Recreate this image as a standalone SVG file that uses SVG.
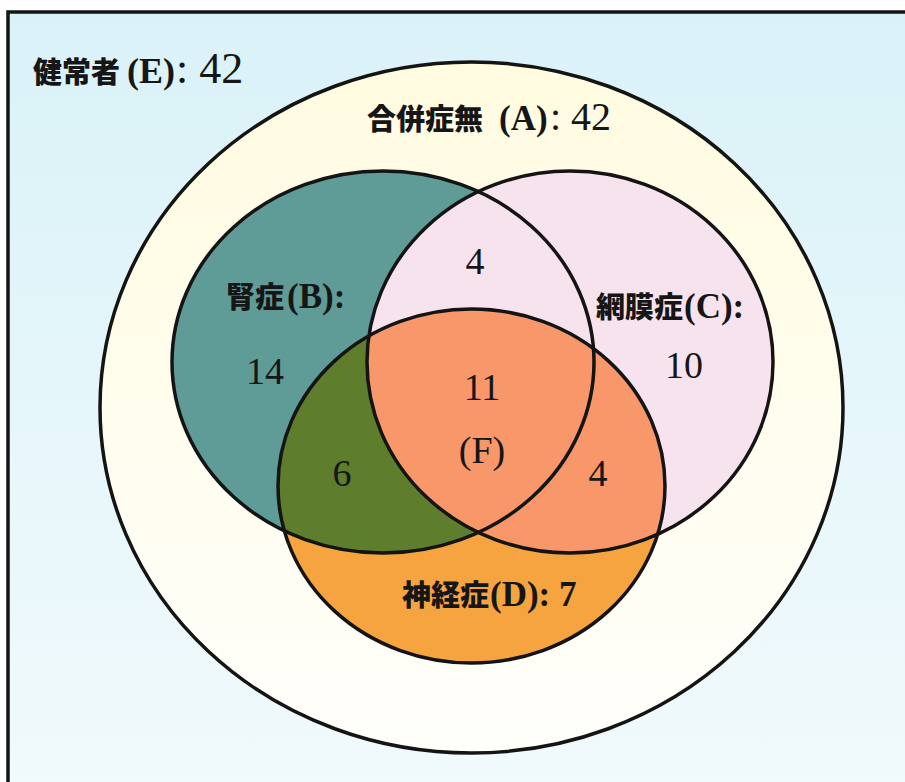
<svg xmlns="http://www.w3.org/2000/svg" width="905" height="782" viewBox="0 0 905 782">
<defs>
  <linearGradient id="bg" x1="0" y1="0" x2="0" y2="1">
    <stop offset="0" stop-color="#d9f2f8"/>
    <stop offset="1" stop-color="#f1fafc"/>
  </linearGradient>
  <linearGradient id="cream" x1="0" y1="0" x2="0" y2="1">
    <stop offset="0" stop-color="#fffbe0"/>
    <stop offset="1" stop-color="#fffffb"/>
  </linearGradient>
  <clipPath id="clipB"><ellipse cx="383" cy="362" rx="211" ry="191"/></clipPath>
  <clipPath id="clipC"><ellipse cx="570" cy="362" rx="203" ry="191"/></clipPath>
</defs>
<style>
  .ol{fill:none;stroke:#141414;stroke-width:3.5}
  .jp{font-family:"Noto Sans CJK JP","Liberation Sans",sans-serif;font-weight:900;font-size:29px;fill:#161616}
  .lb{font-family:"Liberation Serif",serif;font-weight:bold;fill:#161616}
  .rg{font-family:"Liberation Serif",serif;fill:#161616}
  .num{font-family:"Liberation Serif",serif;font-size:38px;fill:#161616;text-anchor:middle}
</style>

<g id="E">
  <rect x="0" y="0" width="905" height="782" fill="#ffffff"/>
  <rect x="8" y="12" width="897" height="770" fill="url(#bg)"/>
  <path d="M8,782 V12 H905" fill="none" stroke="#141414" stroke-width="3.5"/>
  <text y="83"><tspan class="jp" x="33">健常者</tspan><tspan class="lb" x="127" font-size="36">(E)</tspan><tspan class="rg" x="176" font-size="44">: 42</tspan></text>
</g>

<g id="A">
  <ellipse cx="471.5" cy="407.5" rx="371.5" ry="345.5" fill="url(#cream)"/>
  <ellipse class="ol" cx="471.5" cy="407.5" rx="371.5" ry="345.5" stroke-width="4"/>
  <text y="130"><tspan class="jp" x="367">合併症無</tspan><tspan class="lb" x="499" font-size="35">(A)</tspan><tspan class="rg" x="550" font-size="40">: 42</tspan></text>
</g>

<g id="B">
  <ellipse cx="383" cy="362" rx="211" ry="191" fill="#5f9c97"/>
</g>
<g id="C">
  <ellipse cx="570" cy="362" rx="203" ry="191" fill="#f6e3ee"/>
</g>
<g id="D">
  <ellipse cx="471.5" cy="486" rx="193.5" ry="177" fill="#f6a43f"/>
  <ellipse cx="471.5" cy="486" rx="193.5" ry="177" fill="#5e7e2e" clip-path="url(#clipB)"/>
  <ellipse cx="471.5" cy="486" rx="193.5" ry="177" fill="#f7976a" clip-path="url(#clipC)"/>
</g>

<g id="outlines">
  <ellipse class="ol" cx="383" cy="362" rx="211" ry="191"/>
  <ellipse class="ol" cx="570" cy="362" rx="203" ry="191"/>
  <ellipse class="ol" cx="471.5" cy="486" rx="193.5" ry="177"/>
</g>

<g id="labels">
  <text y="308"><tspan class="jp" x="226">腎症</tspan><tspan class="lb" x="287" font-size="35">(B):</tspan></text>
  <text y="318"><tspan class="jp" x="596">網膜症</tspan><tspan class="lb" x="684" font-size="35">(C):</tspan></text>
  <text y="606"><tspan class="jp" x="402">神経症</tspan><tspan class="lb" x="490" font-size="35">(D): 7</tspan></text>
  <text class="num" x="265" y="384">14</text>
  <text class="num" x="475" y="274">4</text>
  <text class="num" x="482" y="400">11</text>
  <text class="num" x="482" y="463">(F)</text>
  <text class="num" x="342" y="486">6</text>
  <text class="num" x="598" y="486">4</text>
  <text class="num" x="684" y="378">10</text>
</g>
</svg>
